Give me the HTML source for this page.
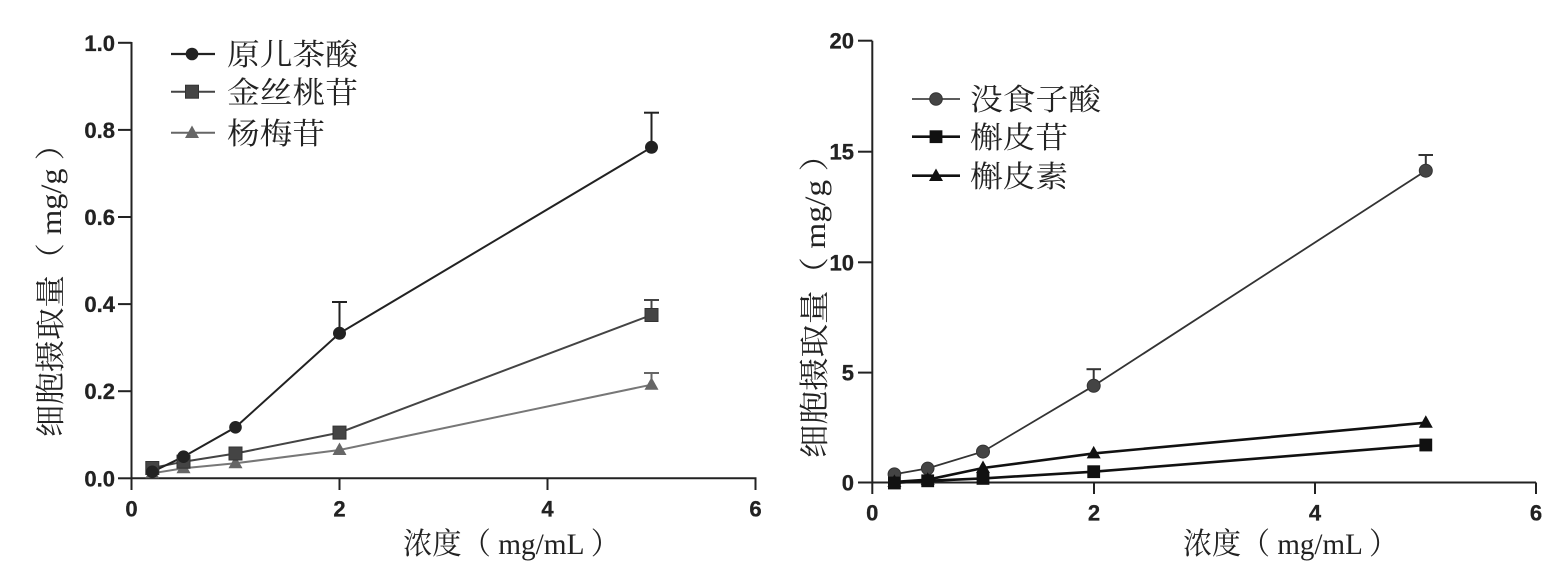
<!DOCTYPE html>
<html>
<head>
<meta charset="utf-8">
<style>
html,body{margin:0;padding:0;background:#fff;}
svg{display:block;}
.tk{font-family:"Liberation Sans",Arial,sans-serif;font-weight:bold;font-size:22px;fill:#222;stroke:#222;stroke-width:0.3px;}
.cj{font-family:"Liberation Serif","Noto Serif CJK SC",serif;font-size:30px;fill:#222;}
</style>
</head>
<body>
<svg width="1565" height="588" viewBox="0 0 1565 588" xmlns="http://www.w3.org/2000/svg">
<rect width="1565" height="588" fill="#fff"/>

<!-- ================= LEFT CHART ================= -->
<g stroke="#222" stroke-width="2" fill="none">
  <line x1="131.5" y1="42" x2="131.5" y2="490"/>
  <line x1="131.5" y1="478.3" x2="756.5" y2="478.3"/>
  <line x1="118" y1="42.8" x2="131.5" y2="42.8"/>
  <line x1="118" y1="129.9" x2="131.5" y2="129.9"/>
  <line x1="118" y1="217" x2="131.5" y2="217"/>
  <line x1="118" y1="304.1" x2="131.5" y2="304.1"/>
  <line x1="118" y1="391.2" x2="131.5" y2="391.2"/>
  <line x1="118" y1="478.3" x2="131.5" y2="478.3"/>
  <line x1="339.5" y1="478.3" x2="339.5" y2="490"/>
  <line x1="547.5" y1="478.3" x2="547.5" y2="490"/>
  <line x1="755.5" y1="478.3" x2="755.5" y2="490"/>
</g>
<g class="tk" text-anchor="end">
  <text x="115" y="50.8">1.0</text>
  <text x="115" y="137.9">0.8</text>
  <text x="115" y="225">0.6</text>
  <text x="115" y="312.1">0.4</text>
  <text x="115" y="399.2">0.2</text>
  <text x="115" y="486.3">0.0</text>
</g>
<g class="tk" text-anchor="middle">
  <text x="131.5" y="516.5">0</text>
  <text x="339.5" y="516.5">2</text>
  <text x="547.5" y="516.5">4</text>
  <text x="755.5" y="516.5">6</text>
</g>
<text class="cj" x="403" y="554" textLength="217" lengthAdjust="spacingAndGlyphs">浓度（ mg/mL ）</text>
<text class="cj" transform="translate(50,282.5) rotate(-90)" x="0" y="11" text-anchor="middle" textLength="309" lengthAdjust="spacingAndGlyphs">细胞摄取量（ mg/g ）</text>

<polyline points="152.3,473.3 183.5,468.3 235.5,463.3 339.5,450 651.5,384.7" fill="none" stroke="#777" stroke-width="2"/>
<polyline points="152.3,468 183.5,461.7 235.5,453.5 339.5,432.6 651.5,315" fill="none" stroke="#444" stroke-width="2"/>
<polyline points="152.3,471.8 183.5,456.7 235.5,427.3 339.5,333.3 651.5,147.3" fill="none" stroke="#222" stroke-width="2"/>
<g stroke="#222" stroke-width="2">
  <line x1="339.5" y1="333" x2="339.5" y2="302"/><line x1="332" y1="302" x2="347" y2="302"/>
  <line x1="651.5" y1="147" x2="651.5" y2="112.7"/><line x1="644" y1="112.7" x2="659" y2="112.7"/>
</g>
<g stroke="#444" stroke-width="2">
  <line x1="651.5" y1="315" x2="651.5" y2="300"/><line x1="644" y1="300" x2="659" y2="300"/>
</g>
<g stroke="#666" stroke-width="2">
  <line x1="651.5" y1="384" x2="651.5" y2="373"/><line x1="644" y1="373" x2="659" y2="373"/>
</g>
<g fill="#666">
  <polygon points="152.3,465.8 159.3,478.3 145.3,478.3"/>
  <polygon points="183.5,460.8 190.5,473.3 176.5,473.3"/>
  <polygon points="235.5,455.8 242.5,468.3 228.5,468.3"/>
  <polygon points="339.5,442.5 346.5,455 332.5,455"/>
  <polygon points="651.5,377.2 658.5,389.7 644.5,389.7"/>
</g>
<g fill="#444" stroke="#333" stroke-width="1">
  <rect x="145.8" y="461.5" width="13" height="13"/>
  <rect x="177" y="455.2" width="13" height="13"/>
  <rect x="229" y="447" width="13" height="13"/>
  <rect x="333" y="426.1" width="13" height="13"/>
  <rect x="645" y="308.5" width="13" height="13"/>
</g>
<g fill="#222">
  <circle cx="152.3" cy="471.8" r="6.3"/>
  <circle cx="183.5" cy="456.7" r="6.3"/>
  <circle cx="235.5" cy="427.3" r="6.3"/>
  <circle cx="339.5" cy="333.3" r="6.5"/>
  <circle cx="651.5" cy="147.3" r="6.5"/>
</g>
<line x1="171" y1="54" x2="215" y2="54" stroke="#222" stroke-width="2.2"/>
<circle cx="192" cy="54" r="6.3" fill="#222"/>
<line x1="171" y1="91.7" x2="215" y2="91.7" stroke="#444" stroke-width="2"/>
<rect x="185.5" y="85.2" width="13" height="13" fill="#444" stroke="#333"/>
<line x1="171" y1="132.7" x2="215" y2="132.7" stroke="#666" stroke-width="2"/>
<polygon points="192,125.5 199,138 185,138" fill="#666"/>
<text class="cj" x="227" y="65" textLength="131" lengthAdjust="spacingAndGlyphs">原儿茶酸</text>
<text class="cj" x="227" y="103" textLength="131" lengthAdjust="spacingAndGlyphs">金丝桃苷</text>
<text class="cj" x="227" y="144" textLength="98" lengthAdjust="spacingAndGlyphs">杨梅苷</text>

<!-- ================= RIGHT CHART ================= -->
<g stroke="#222" stroke-width="2" fill="none">
  <line x1="872.3" y1="40.7" x2="872.3" y2="494"/>
  <line x1="872.3" y1="482.5" x2="1536" y2="482.5"/>
  <line x1="858" y1="40.7" x2="872.3" y2="40.7"/>
  <line x1="858" y1="151.7" x2="872.3" y2="151.7"/>
  <line x1="858" y1="262.3" x2="872.3" y2="262.3"/>
  <line x1="858" y1="372.6" x2="872.3" y2="372.6"/>
  <line x1="858" y1="482.5" x2="872.3" y2="482.5"/>
  <line x1="1094" y1="482.5" x2="1094" y2="494"/>
  <line x1="1315" y1="482.5" x2="1315" y2="494"/>
  <line x1="1536" y1="482.5" x2="1536" y2="494"/>
</g>
<g class="tk" text-anchor="end">
  <text x="854" y="48.7">20</text>
  <text x="854" y="159.7">15</text>
  <text x="854" y="270.3">10</text>
  <text x="854" y="380.6">5</text>
  <text x="854" y="490.5">0</text>
</g>
<g class="tk" text-anchor="middle">
  <text x="872.3" y="520.5">0</text>
  <text x="1094" y="520.5">2</text>
  <text x="1315" y="520.5">4</text>
  <text x="1536" y="520.5">6</text>
</g>
<text class="cj" x="1183" y="554" textLength="215" lengthAdjust="spacingAndGlyphs">浓度（ mg/mL ）</text>
<text class="cj" transform="translate(814,298) rotate(-90)" x="0" y="11" text-anchor="middle" textLength="320" lengthAdjust="spacingAndGlyphs">细胞摄取量（ mg/g ）</text>

<polyline points="894.4,474.2 927.7,468.4 983,451.6 1093.7,385.8 1425.8,170.7" fill="none" stroke="#333" stroke-width="1.8"/>
<polyline points="894.4,481.9 927.7,479.7 983,468 1093.7,453.4 1425.8,422.7" fill="none" stroke="#111" stroke-width="2.6"/>
<polyline points="894.4,483 927.7,480.8 983,478.4 1093.7,471.7 1425.8,445" fill="none" stroke="#111" stroke-width="2.6"/>
<g stroke="#333" stroke-width="2">
  <line x1="1093.7" y1="385" x2="1093.7" y2="369.2"/><line x1="1086.5" y1="369.2" x2="1101" y2="369.2"/>
  <line x1="1425.8" y1="170" x2="1425.8" y2="155"/><line x1="1418.5" y1="155" x2="1433" y2="155"/>
</g>
<g fill="#444" stroke="#333" stroke-width="1">
  <circle cx="894.4" cy="474.2" r="6.3"/>
  <circle cx="927.7" cy="468.4" r="6.3"/>
  <circle cx="983" cy="451.6" r="6.5"/>
  <circle cx="1093.7" cy="385.8" r="6.5"/>
  <circle cx="1425.8" cy="170.7" r="6.5"/>
</g>
<g fill="#111">
  <polygon points="894.4,474.4 901.4,486.9 887.4,486.9"/>
  <polygon points="927.7,472.2 934.7,484.7 920.7,484.7"/>
  <polygon points="983,460.5 990,473 976,473"/>
  <polygon points="1093.7,445.9 1100.7,458.4 1086.7,458.4"/>
  <polygon points="1425.8,415.2 1432.8,427.7 1418.8,427.7"/>
</g>
<g fill="#111">
  <rect x="888" y="476.6" width="12.8" height="12.8"/>
  <rect x="921.3" y="474.4" width="12.8" height="12.8"/>
  <rect x="976.6" y="472" width="12.8" height="12.8"/>
  <rect x="1087.3" y="465.3" width="12.8" height="12.8"/>
  <rect x="1419.4" y="438.6" width="12.8" height="12.8"/>
</g>
<line x1="912" y1="99" x2="960" y2="99" stroke="#444" stroke-width="1.8"/>
<circle cx="936" cy="99" r="6.3" fill="#444" stroke="#333"/>
<line x1="912" y1="136.7" x2="960" y2="136.7" stroke="#111" stroke-width="2.6"/>
<rect x="929.6" y="130.3" width="12.8" height="12.8" fill="#111"/>
<line x1="912" y1="175.7" x2="960" y2="175.7" stroke="#111" stroke-width="2.6"/>
<polygon points="936,168.5 943,181 929,181" fill="#111"/>
<text class="cj" x="970" y="110" textLength="131" lengthAdjust="spacingAndGlyphs">没食子酸</text>
<text class="cj" x="970" y="148" textLength="98" lengthAdjust="spacingAndGlyphs">槲皮苷</text>
<text class="cj" x="970" y="187" textLength="98" lengthAdjust="spacingAndGlyphs">槲皮素</text>
</svg>
</body>
</html>
